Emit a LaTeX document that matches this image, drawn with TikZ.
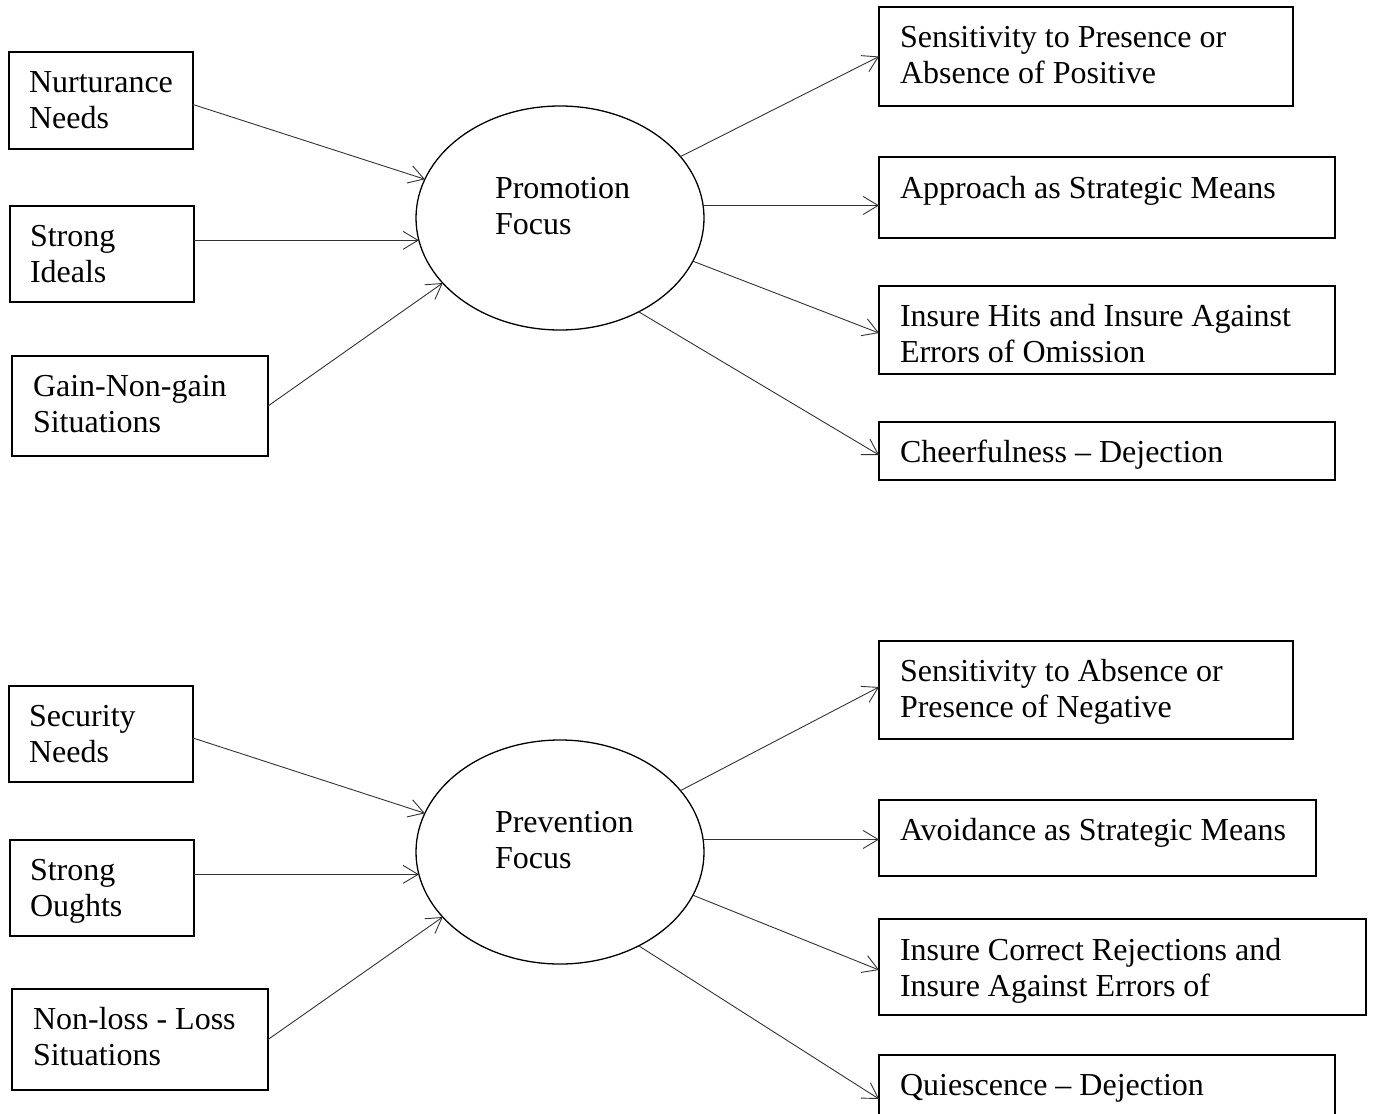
\documentclass[tikz,border=0pt]{standalone}
\usepackage{fontspec}
\setmainfont{Liberation Serif}
\usetikzlibrary{arrows.meta,shapes.geometric}
\newcommand\mytxt[1]{\parbox[t]{600pt}{\raggedright #1}}
\begin{document}
\begin{tikzpicture}[x=1pt,y=-1pt,
  box/.style={draw=black, line width=1.3pt, anchor=north west, inner sep=0pt, outer sep=0pt},
  oval/.style={draw=black, line width=1.3pt, ellipse, minimum width=288pt, minimum height=224pt, inner sep=0pt, outer sep=0pt},
  lbl/.style={anchor=base west, inner sep=0pt, outer sep=0pt, font=\fontsize{32}{36.5}\selectfont},
  arr/.style={draw=black!80, line width=0.9pt, -{Straight Barb[length=15pt,width=18pt,line width=0.9pt]}}
]
\useasboundingbox (0,0) rectangle (1374,1114);
\clip (0,0) rectangle (1374,1114);

% ---------------- Promotion group ----------------
\node[box, minimum width=184pt, minimum height=97pt] (nurt) at (9,52) {};
\node[box, minimum width=184pt, minimum height=96pt] (ideals) at (10,206) {};
\node[box, minimum width=256pt, minimum height=100pt] (gain) at (12,356) {};
\node[oval] (promo) at (560,218) {};
\node[box, minimum width=414pt, minimum height=99pt] (sensP) at (879,7) {};
\node[box, minimum width=456pt, minimum height=81pt] (approach) at (879,157) {};
\node[box, minimum width=456pt, minimum height=88pt] (hits) at (879,286) {};
\node[box, minimum width=456pt, minimum height=58pt] (cheer) at (879,422) {};

\node[lbl] (nurtT) at (29,92) {\mytxt{Nurturance\\Needs}};
\node[lbl] (idealsT) at (30,246) {\mytxt{Strong\\Ideals}};
\node[lbl] (gainT) at (33,396) {\mytxt{Gain-Non-gain\\Situations}};
\node[lbl] (promoT) at (495,198) {\mytxt{Promotion\\Focus}};
\node[lbl] (sensPT) at (900,47) {\mytxt{Sensitivity to Presence or\\Absence of Positive}};
\node[lbl] (approachT) at (900,198) {Approach as Strategic Means};
\node[lbl] (hitsT) at (900,326) {\mytxt{Insure Hits and Insure Against\\Errors of Omission}};
\node[lbl] (cheerT) at (900,462) {Cheerfulness -- Dejection};

\draw[arr] ([yshift=-4pt]nurt.east) -- (promo.164);
\draw[arr] (promo.189.5 -| ideals.east) -- (promo.189.5);
\draw[arr] (gain.east) -- (promo.209.5);
\draw[arr] (promo.27) -- (sensP.west);
\draw[arr] (promo.5) -- (promo.5 -| approach.west);
\draw[arr] (promo.-18) -- ([yshift=-3pt]hits.west);
\draw[arr] (promo.-50) -- ([yshift=-4pt]cheer.west);

% ---------------- Prevention group ----------------
\node[box, minimum width=184pt, minimum height=96pt] (secur) at (9,686) {};
\node[box, minimum width=184pt, minimum height=96pt] (oughts) at (10,840) {};
\node[box, minimum width=256pt, minimum height=101pt] (nonloss) at (12,989) {};
\node[oval] (prev) at (560,852) {};
\node[box, minimum width=414pt, minimum height=98pt] (sensA) at (879,641) {};
\node[box, minimum width=437pt, minimum height=76pt] (avoid) at (879,800) {};
\node[box, minimum width=487pt, minimum height=96pt] (correct) at (879,919) {};
\node[box, minimum width=456pt, minimum height=80pt] (quies) at (879,1055) {};

\node[lbl] (securT) at (29,726) {\mytxt{Security\\Needs}};
\node[lbl] (oughtsT) at (30,880) {\mytxt{Strong\\Oughts}};
\node[lbl] (nonlossT) at (33,1029) {\mytxt{Non-loss - Loss\\Situations}};
\node[lbl] (prevT) at (495,832) {\mytxt{Prevention\\Focus}};
\node[lbl] (sensAT) at (900,681) {\mytxt{Sensitivity to Absence or\\Presence of Negative}};
\node[lbl] (avoidT) at (900,840) {Avoidance as Strategic Means};
\node[lbl] (correctT) at (900,960) {\mytxt{Insure Correct Rejections and\\Insure Against Errors of}};
\node[lbl] (quiesT) at (900,1095) {Quiescence -- Dejection};

\draw[arr] ([yshift=-4pt]secur.east) -- (prev.164);
\draw[arr] (prev.189.5 -| oughts.east) -- (prev.189.5);
\draw[arr] (nonloss.east) -- (prev.209.5);
\draw[arr] (prev.27) -- ([yshift=3pt]sensA.west);
\draw[arr] (prev.5) -- (prev.5 -| avoid.west);
\draw[arr] (prev.-18) -- ([yshift=-3pt]correct.west);
\draw[arr] (prev.-50) -- ([yshift=-4pt]quies.west);
\end{tikzpicture}
\end{document}
